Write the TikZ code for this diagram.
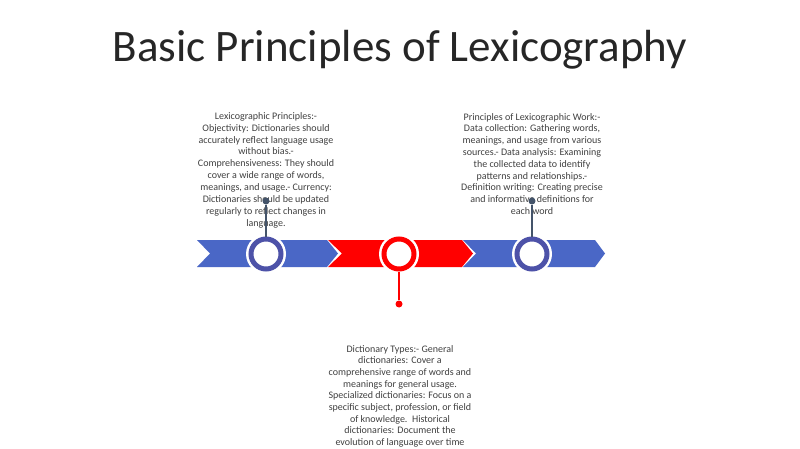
\documentclass[tikz,border=0pt]{standalone}
\usepackage{fontspec}
\setmainfont{Carlito}
\definecolor{chevblue}{HTML}{4A67C6}
\definecolor{chevred}{HTML}{FF0000}
\definecolor{ringblue}{HTML}{4D52A8}
\definecolor{linegrey}{HTML}{44546A}
\definecolor{txtgrey}{HTML}{404040}
\definecolor{titlegrey}{HTML}{262626}
\tikzset{
  ringnode/.style={circle, minimum size=30pt, inner sep=0pt, fill=white, draw=#1, line width=5pt},
  halo/.style={circle, minimum size=40pt, inner sep=0pt, fill=white},
  dotnode/.style={circle, fill=#1, minimum size=7pt, inner sep=0pt},
  desc/.style={font=\fontsize{10}{11.8}\selectfont, text=txtgrey, align=center, inner sep=0pt, anchor=north},
}
\begin{document}
\begin{tikzpicture}[x=1pt,y=-1pt]
\useasboundingbox (0,0) rectangle (800,449);
\fill[white] (0,0) rectangle (800,449);
\node[font=\fontsize{45}{54}\selectfont, text=titlegrey] (title) at (400,50) {Basic Principles of Lexicography};
% chevrons
\fill[chevblue] (197,240) -- (327,240) -- (338,253.5) -- (327,267) -- (197,267) -- (210,253.5) -- cycle;
\fill[chevred] (328,240) -- (462,240) -- (473,253.5) -- (462,267) -- (328,267) -- (342,253.5) -- cycle;
\fill[chevblue] (463,240) -- (595,240) -- (605,253.5) -- (595,267) -- (463,267) -- (476,253.5) -- cycle;
% texts
\node[desc, font=\fontsize{10}{11.95}\selectfont] (t1) at (266,112) {Lexicographic Principles:-\\Objectivity: Dictionaries should\\accurately reflect language usage\\without bias.-\\Comprehensiveness: They should\\cover a wide range of words,\\meanings, and usage.- Currency:\\Dictionaries should be updated\\regularly to reflect changes in\\language.};
\node[desc] (t2) at (532,113) {Principles of Lexicographic Work:-\\Data collection: Gathering words,\\meanings, and usage from various\\sources.- Data analysis: Examining\\the collected data to identify\\patterns and relationships.-\\Definition writing: Creating precise\\and informative definitions for\\each word};
\node[desc, font=\fontsize{10}{11.65}\selectfont] (t3) at (400,345) {Dictionary Types:- General\\dictionaries: Cover a\\comprehensive range of words and\\meanings for general usage.\\Specialized dictionaries: Focus on a\\specific subject, profession, or field\\of knowledge.\ \ Historical\\dictionaries: Document the\\evolution of language over time};
% halos and rings
\node[halo] (h1) at (266,254) {};
\node[halo] (h2) at (399,254) {};
\node[halo] (h3) at (532,254) {};
\node[ringnode=ringblue] (c1) at (266,254) {};
\node[ringnode=chevred] (c2) at (399,254) {};
\node[ringnode=ringblue] (c3) at (532,254) {};
% dots
\node[dotnode=linegrey] (d1) at (266,201) {};
\node[dotnode=linegrey] (d3) at (532,201) {};
\node[dotnode=chevred] (d2) at (399,304) {};
\draw[linegrey, line width=1.2pt] (d1) -- (c1.north);
\draw[linegrey, line width=1.2pt] (d3) -- (c3.north);
\draw[chevred, line width=1.2pt] (d2) -- (c2.south);
\end{tikzpicture}
\end{document}
